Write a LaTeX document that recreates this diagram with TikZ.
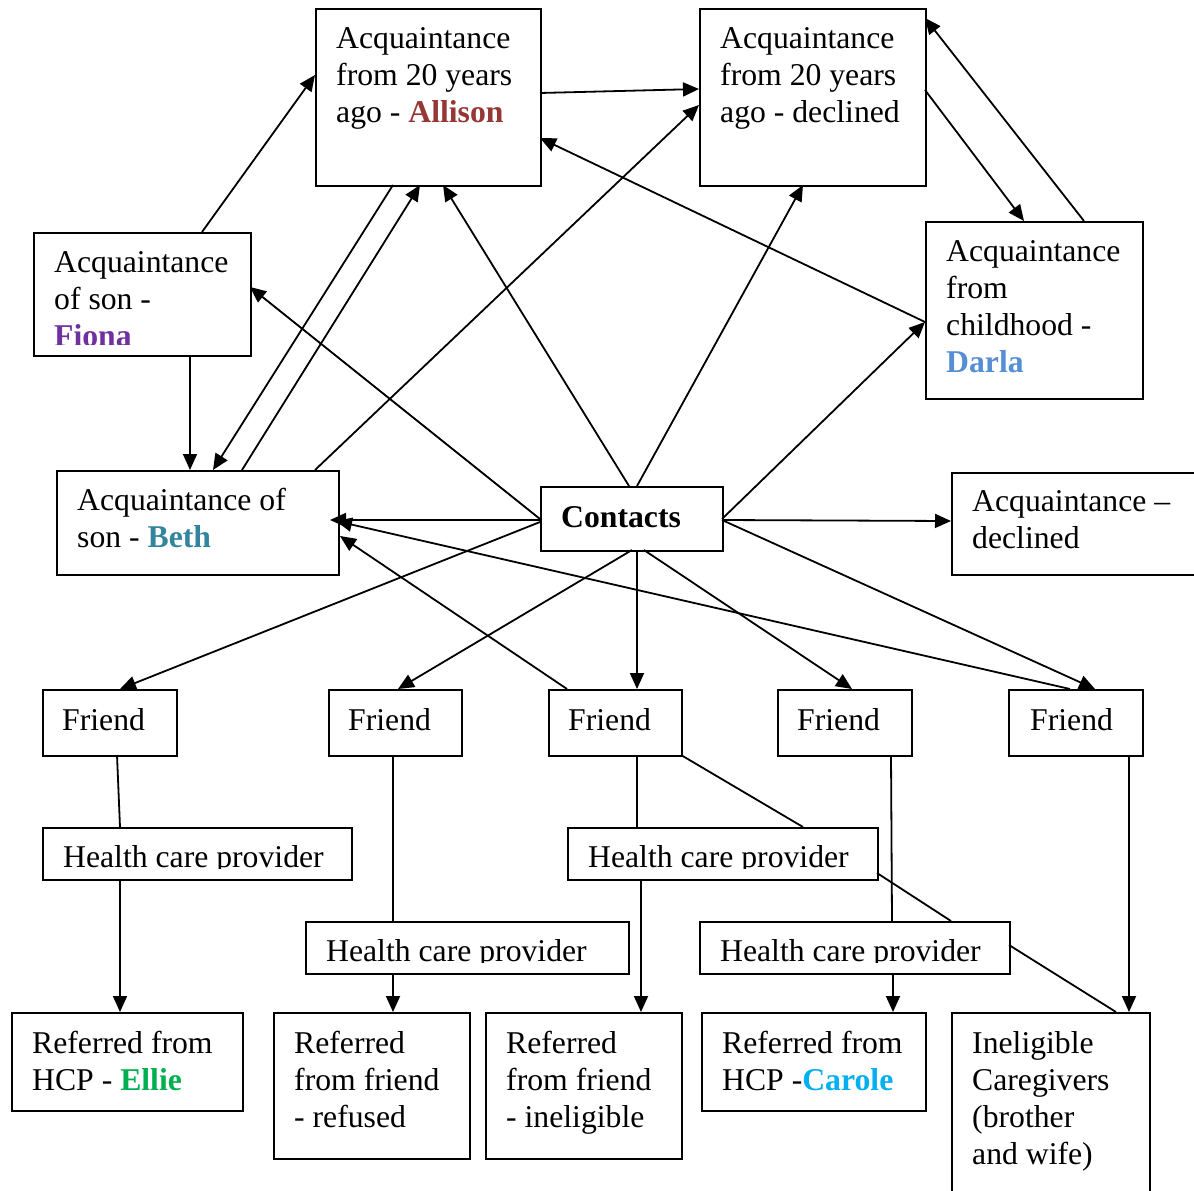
\documentclass[tikz,border=0pt]{standalone}
\usepackage{fontspec}
\setmainfont{Liberation Serif}
\usetikzlibrary{arrows.meta,calc}
\definecolor{callison}{HTML}{953735}
\definecolor{cfiona}{HTML}{7030A0}
\definecolor{cbeth}{HTML}{31859C}
\definecolor{cdarla}{HTML}{558ED5}
\definecolor{cellie}{HTML}{00B050}
\definecolor{ccarole}{HTML}{00B0F0}
\newcommand\fsz{\fontsize{31.7}{37}\selectfont}
\newcommand\lns[1]{\begin{tabular}[t]{@{}l@{}}#1\end{tabular}}
\begin{document}
\begin{tikzpicture}[x=1pt,y=-1pt,
  box/.style={draw, line width=1.8pt, rectangle, inner sep=0pt, anchor=north west},
  txt/.style={anchor=base west, inner sep=0pt, font=\fsz},
  conn/.style={line width=1.8pt},
  arr/.style={conn, -{Triangle[length=16pt,width=14pt]}}]
\useasboundingbox (0,0) rectangle (1194,1191);
\fill[white] (0,0) rectangle (1194,1191);
\clip (0,0) rectangle (1194,1191);

% boxes
\node[box, minimum width=225pt, minimum height=177pt] (A) at (315,8) {};
\node[box, minimum width=226pt, minimum height=177pt] (D) at (699,8) {};
\node[box, minimum width=217pt, minimum height=123pt] (F) at (33,232) {};
\node[box, minimum width=217pt, minimum height=177pt] (R) at (925,221) {};
\node[box, minimum width=282pt, minimum height=104pt] (B) at (56,470) {};
\node[box, minimum width=182pt, minimum height=64pt] (C) at (540,486) {};
\node[box, minimum width=260pt, minimum height=102pt] (AD) at (951,472) {};
\node[box, minimum width=134pt, minimum height=66pt] (F1) at (42,689) {};
\node[box, minimum width=133pt, minimum height=66pt] (F2) at (328,689) {};
\node[box, minimum width=133pt, minimum height=66pt] (F3) at (548,689) {};
\node[box, minimum width=134pt, minimum height=66pt] (F4) at (777,689) {};
\node[box, minimum width=134pt, minimum height=66pt] (F5) at (1008,689) {};
\node[box, minimum width=309pt, minimum height=52pt] (H1) at (42,827) {};
\node[box, minimum width=310pt, minimum height=52pt] (H2) at (567,827) {};
\node[box, minimum width=323pt, minimum height=52pt] (H3) at (305,921) {};
\node[box, minimum width=310pt, minimum height=52pt] (H4) at (699,921) {};
\node[box, minimum width=231pt, minimum height=98pt] (E) at (11,1012) {};
\node[box, minimum width=196pt, minimum height=146pt] (Rf) at (273,1012) {};
\node[box, minimum width=196pt, minimum height=146pt] (In) at (485,1012) {};
\node[box, minimum width=224pt, minimum height=98pt] (Ca) at (701,1012) {};
\node[box, minimum width=198pt, minimum height=200pt] (IC) at (951,1012) {};

% texts
\node[txt] (tA) at (336,48) {\lns{Acquaintance\\from 20 years\\ago - \textbf{\color{callison}Allison}}};
\node[txt] (tD) at (720,48) {\lns{Acquaintance\\from 20 years\\ago - declined}};
\begin{scope}
\clip (33,232) rectangle (250,344);
\node[txt] (tF) at (54,272) {\lns{Acquaintance\\of son -\\\textbf{\color{cfiona}Fiona}}};
\end{scope}
\node[txt] (tR) at (946,261) {\lns{Acquaintance\\from\\childhood -\\\textbf{\color{cdarla}Darla}}};
\node[txt] (tB) at (77,510) {\lns{Acquaintance of\\son - \textbf{\color{cbeth}Beth}}};
\node[txt] (tC) at (561,527) {\textbf{Contacts}};
\node[txt] (tAD) at (972,511) {\lns{Acquaintance –\\declined}};
\node[txt] (tF1) at (62,730) {Friend};
\node[txt] (tF2) at (348,730) {Friend};
\node[txt] (tF3) at (568,730) {Friend};
\node[txt] (tF4) at (797,730) {Friend};
\node[txt] (tF5) at (1030,730) {Friend};
\begin{scope}
\clip (42,827) rectangle (351,868);
\node[txt] (tH1) at (63,867) {Health care provider};
\end{scope}
\begin{scope}
\clip (567,827) rectangle (877,868);
\node[txt] (tH2) at (588,867) {Health care provider};
\end{scope}
\begin{scope}
\clip (305,921) rectangle (628,962);
\node[txt] (tH3) at (326,961) {Health care provider};
\end{scope}
\begin{scope}
\clip (699,921) rectangle (1009,962);
\node[txt] (tH4) at (720,961) {Health care provider};
\end{scope}
\node[txt] (tE) at (32,1053) {\lns{Referred from\\HCP - \textbf{\color{cellie}Ellie}}};
\node[txt] (tRf) at (294,1053) {\lns{Referred\\from friend\\- refused}};
\node[txt] (tIn) at (506,1053) {\lns{Referred\\from friend\\- ineligible}};
\node[txt] (tCa) at (722,1053) {\lns{Referred from\\HCP -\textbf{\color{ccarole}Carole}}};
\node[txt] (tIC) at (972,1053) {\lns{Ineligible\\Caregivers\\(brother\\and wife)}};

% connectors
\draw[arr] ($(F.north west)+(169,0)$) -- ($(A.north west)+(0,67)$);
\draw[arr] ($(A.north west)+(225,85)$) -- ($(D.north west)+(0,81)$);
\draw[arr] ($(D.north west)+(226,82)$) -- ($(R.north west)+(99,0)$);
\draw[arr] ($(R.north west)+(159,0)$) -- ($(D.north west)+(226,10)$);
\draw[arr] ($(R.north west)+(0,101)$) -- ($(A.north west)+(225,130)$);
\draw[arr] ($(C.north west)+(89,0)$) -- ($(A.north west)+(128,177)$);
\draw[arr] ($(C.north west)+(97,0)$) -- ($(D.north west)+(104,177)$);
\draw[arr] ($(C.north west)+(182,33)$) -- ($(R.north west)+(0,101)$);
\draw[arr] ($(C.north west)+(0,33)$) -- ($(F.north west)+(217,55)$);
\draw[arr] ($(C.north west)+(0,34)$) -- ($(B.north west)+(274,50)$);
\draw[arr] ($(C.north west)+(182,34)$) -- ($(AD.north west)+(0,49)$);
\draw[arr] ($(F.north west)+(157,123)$) -- ($(B.north west)+(134,0)$);
\draw[arr] ($(A.north west)+(78,177)$) -- ($(B.north west)+(157,0)$);
\draw[arr] ($(B.north west)+(186,0)$) -- ($(A.north west)+(105,177)$);
\draw[arr] ($(B.north west)+(259,0)$) -- ($(D.north west)+(0,97)$);
\draw[arr] ($(C.north west)+(0,36)$) -- ($(F1.north west)+(78,0)$);
\draw[arr] ($(C.north west)+(92,64)$) -- ($(F2.north west)+(70,0)$);
\draw[arr] ($(C.north west)+(97,64)$) -- ($(F3.north west)+(89,0)$);
\draw[arr] ($(C.north west)+(104,64)$) -- ($(F4.north west)+(75,0)$);
\draw[arr] ($(C.north west)+(182,34)$) -- ($(F5.north west)+(87,0)$);
\draw[arr] ($(F3.north west)+(19,0)$) -- ($(B.north west)+(284,66)$);
\draw[arr] ($(F5.north west)+(62,0)$) -- ($(B.north west)+(280,51)$);
\draw[conn] ($(F1.north west)+(75,66)$) -- ($(H1.north west)+(78,0)$);
\draw[arr] ($(H1.north west)+(78,52)$) -- ($(E.north west)+(109,0)$);
\draw[conn] ($(F2.north west)+(65,66)$) -- ($(H3.north west)+(88,0)$);
\draw[arr] ($(H3.north west)+(88,52)$) -- ($(Rf.north west)+(120,0)$);
\draw[conn] ($(F3.north west)+(89,66)$) -- ($(H2.north west)+(70,0)$);
\draw[conn] ($(F3.north west)+(133,66)$) -- ($(H2.north west)+(236,0)$);
\draw[arr] ($(H2.north west)+(74,52)$) -- ($(In.north west)+(156,0)$);
\draw[conn] ($(H2.north west)+(310,46)$) -- ($(H4.north west)+(252,0)$);
\draw[conn] ($(F4.north west)+(114,66)$) -- ($(H4.north west)+(193,0)$);
\draw[arr] ($(H4.north west)+(194,52)$) -- ($(Ca.north west)+(192,0)$);
\draw[conn] ($(H4.north west)+(310,24)$) -- ($(IC.north west)+(165,0)$);
\draw[arr] ($(F5.north west)+(121,66)$) -- ($(IC.north west)+(178,0)$);
\end{tikzpicture}
\end{document}
